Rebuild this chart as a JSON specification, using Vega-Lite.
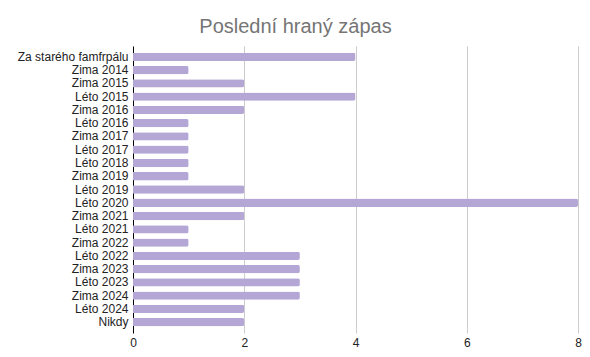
{
  "$schema": "https://vega.github.io/schema/vega-lite/v6.json",
  "width": 445,
  "height": 287,
  "autosize": {"type": "none"},
  "padding": {"left": 133, "top": 46, "right": 12, "bottom": 24},
  "background": "white",
  "title": {"text": "Poslední hraný zápas", "font": "Liberation Sans", "fontSize": 20, "fontWeight": "normal", "color": "#757575", "anchor": "middle", "dx": -60, "offset": 9},
  "data": {"values": [
    {"k": "Za starého famfrpálu", "v": 4},
    {"k": "Zima 2014", "v": 1},
    {"k": "Zima 2015", "v": 2},
    {"k": "Léto 2015", "v": 4},
    {"k": "Zima 2016", "v": 2},
    {"k": "Léto 2016", "v": 1},
    {"k": "Zima 2017", "v": 1},
    {"k": "Léto 2017", "v": 1},
    {"k": "Léto 2018", "v": 1},
    {"k": "Zima 2019", "v": 1},
    {"k": "Léto 2019", "v": 2},
    {"k": "Léto 2020", "v": 8},
    {"k": "Zima 2021", "v": 2},
    {"k": "Léto 2021", "v": 1},
    {"k": "Zima 2022", "v": 1},
    {"k": "Léto 2022", "v": 3},
    {"k": "Zima 2023", "v": 3},
    {"k": "Léto 2023", "v": 3},
    {"k": "Zima 2024", "v": 3},
    {"k": "Léto 2024", "v": 2},
    {"k": "Nikdy", "v": 2}
  ]},
  "config": {"view": {"stroke": null}},
  "mark": {"type": "bar", "color": "#b4a7d6", "cornerRadiusEnd": 2},
  "encoding": {
    "y": {"field": "k", "type": "nominal", "sort": null, "title": null,
      "scale": {"paddingInner": 0.37, "paddingOuter": 0.5},
      "axis": {"domainColor": "#000000", "ticks": false, "labelFont": "Liberation Sans", "labelFontSize": 12, "labelColor": "#222222", "labelPadding": 5, "grid": false, "labelLimit": 200}},
    "x": {"field": "v", "type": "quantitative", "title": null,
      "scale": {"domain": [0, 8], "nice": false},
      "axis": {"values": [0, 2, 4, 6, 8], "format": "d", "domain": false, "ticks": false, "labelFlush": false, "gridColor": "#cccccc", "labelFont": "Liberation Sans", "labelFontSize": 12, "labelColor": "#222222", "labelPadding": 4}}
  }
}
